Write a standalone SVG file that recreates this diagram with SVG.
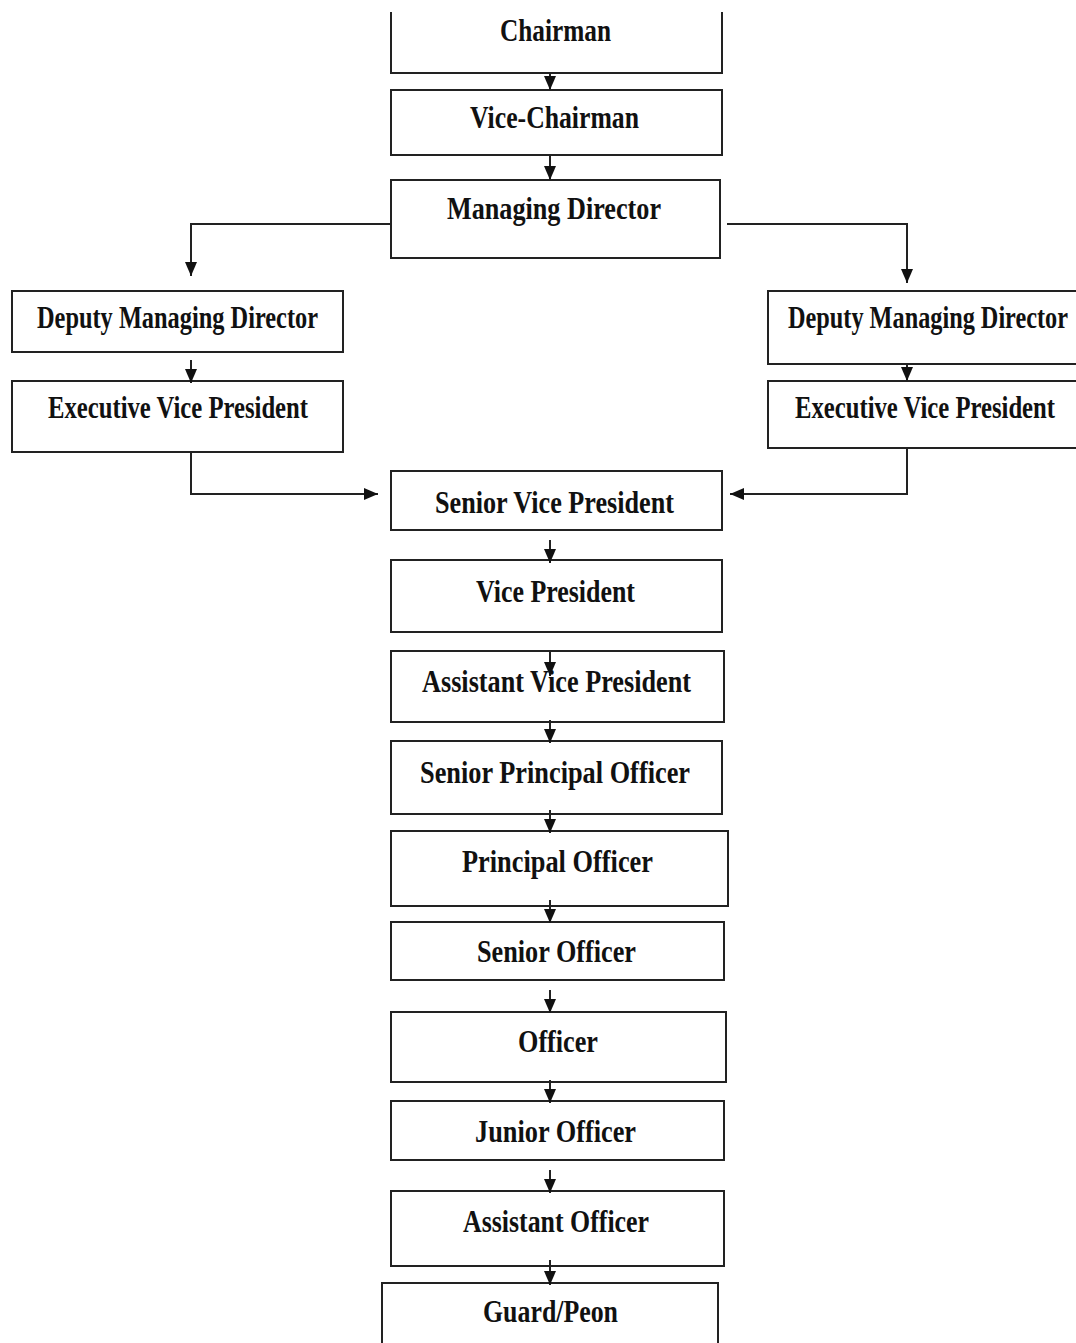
<svg xmlns="http://www.w3.org/2000/svg" width="1076" height="1343" viewBox="0 0 1076 1343">
<style>
.box{fill:#fff;stroke:#222;stroke-width:2}
.lbl{font-family:'Liberation Serif','Times New Roman',serif;font-weight:700;font-size:25px;fill:#111;text-anchor:middle}
.edge{fill:none;stroke:#222;stroke-width:2;marker-end:url(#ah)}
</style>
<defs>
<marker id="ah" viewBox="0 0 14 12" refX="14" refY="6" markerWidth="14" markerHeight="12" markerUnits="userSpaceOnUse" orient="auto">
<path d="M0,0 L14,6 L0,12 z" fill="#111"/>
</marker>
</defs>
<rect width="1076" height="1343" fill="#fff"/>
<g id="chairman"><path class="box" d="M391,12 V73 H722 V12"/><text class="lbl" textLength="111" lengthAdjust="spacingAndGlyphs" transform="translate(555.5,41) scale(1,1.25)">Chairman</text></g>
<g id="vice-chairman"><rect class="box" x="391" y="90" width="331" height="65"/><text class="lbl" textLength="169" lengthAdjust="spacingAndGlyphs" transform="translate(554.5,128) scale(1,1.25)">Vice-Chairman</text></g>
<g id="managing-director"><rect class="box" x="391" y="180" width="329" height="78"/><text class="lbl" textLength="214" lengthAdjust="spacingAndGlyphs" transform="translate(554,219) scale(1,1.25)">Managing Director</text></g>
<g id="dmd-left"><rect class="box" x="12" y="291" width="331" height="61"/><text class="lbl" textLength="281" lengthAdjust="spacingAndGlyphs" transform="translate(177.5,328) scale(1,1.25)">Deputy Managing Director</text></g>
<g id="evp-left"><rect class="box" x="12" y="381" width="331" height="71"/><text class="lbl" textLength="260" lengthAdjust="spacingAndGlyphs" transform="translate(178,418) scale(1,1.25)">Executive Vice President</text></g>
<g id="dmd-right"><path class="box" d="M1076,291 H768 V364 H1076"/><text class="lbl" textLength="280" lengthAdjust="spacingAndGlyphs" transform="translate(928,328) scale(1,1.25)">Deputy Managing Director</text></g>
<g id="evp-right"><path class="box" d="M1076,381 H768 V448 H1076"/><text class="lbl" textLength="260" lengthAdjust="spacingAndGlyphs" transform="translate(925,418) scale(1,1.25)">Executive Vice President</text></g>
<g id="svp"><rect class="box" x="391" y="471" width="331" height="59"/><text class="lbl" textLength="239" lengthAdjust="spacingAndGlyphs" transform="translate(554.5,513) scale(1,1.25)">Senior Vice President</text></g>
<g id="vp"><rect class="box" x="391" y="560" width="331" height="72"/><text class="lbl" textLength="159" lengthAdjust="spacingAndGlyphs" transform="translate(555.5,602) scale(1,1.25)">Vice President</text></g>
<g id="avp"><rect class="box" x="391" y="651" width="333" height="71"/><text class="lbl" textLength="269" lengthAdjust="spacingAndGlyphs" transform="translate(556.5,692) scale(1,1.25)">Assistant Vice President</text></g>
<g id="spo"><rect class="box" x="391" y="741" width="331" height="73"/><text class="lbl" textLength="270" lengthAdjust="spacingAndGlyphs" transform="translate(555,783) scale(1,1.25)">Senior Principal Officer</text></g>
<g id="po"><rect class="box" x="391" y="831" width="337" height="75"/><text class="lbl" textLength="191" lengthAdjust="spacingAndGlyphs" transform="translate(557.5,872) scale(1,1.25)">Principal Officer</text></g>
<g id="so"><rect class="box" x="391" y="922" width="333" height="58"/><text class="lbl" textLength="159" lengthAdjust="spacingAndGlyphs" transform="translate(556.5,962) scale(1,1.25)">Senior Officer</text></g>
<g id="officer"><rect class="box" x="391" y="1012" width="335" height="70"/><text class="lbl" textLength="80" lengthAdjust="spacingAndGlyphs" transform="translate(558,1052) scale(1,1.25)">Officer</text></g>
<g id="jo"><rect class="box" x="391" y="1101" width="333" height="59"/><text class="lbl" textLength="161" lengthAdjust="spacingAndGlyphs" transform="translate(555.5,1142) scale(1,1.25)">Junior Officer</text></g>
<g id="ao"><rect class="box" x="391" y="1191" width="333" height="75"/><text class="lbl" textLength="186" lengthAdjust="spacingAndGlyphs" transform="translate(556,1232) scale(1,1.25)">Assistant Officer</text></g>
<g id="guard"><path class="box" d="M382,1343 V1283 H718 V1343"/><text class="lbl" textLength="135" lengthAdjust="spacingAndGlyphs" transform="translate(550.5,1322) scale(1,1.25)">Guard/Peon</text></g>
<g id="connectors">
<path class="edge" d="M550,73 V90"/>
<path class="edge" d="M550,155 V180"/>
<path class="edge" d="M391,224 H191 V276"/>
<path class="edge" d="M727,224 H907 V283"/>
<path class="edge" d="M191,360 V383"/>
<path class="edge" d="M907,364 V381"/>
<path class="edge" d="M191,452 V494 H378"/>
<path class="edge" d="M907,448 V494 H730"/>
<path class="edge" d="M550,540 V563"/>
<path class="edge" d="M550,651 V676"/>
<path class="edge" d="M550,720 V743"/>
<path class="edge" d="M550,810 V833"/>
<path class="edge" d="M550,900 V923"/>
<path class="edge" d="M550,990 V1013"/>
<path class="edge" d="M550,1080 V1103"/>
<path class="edge" d="M550,1170 V1193"/>
<path class="edge" d="M550,1260 V1285"/>
</g>
</svg>
